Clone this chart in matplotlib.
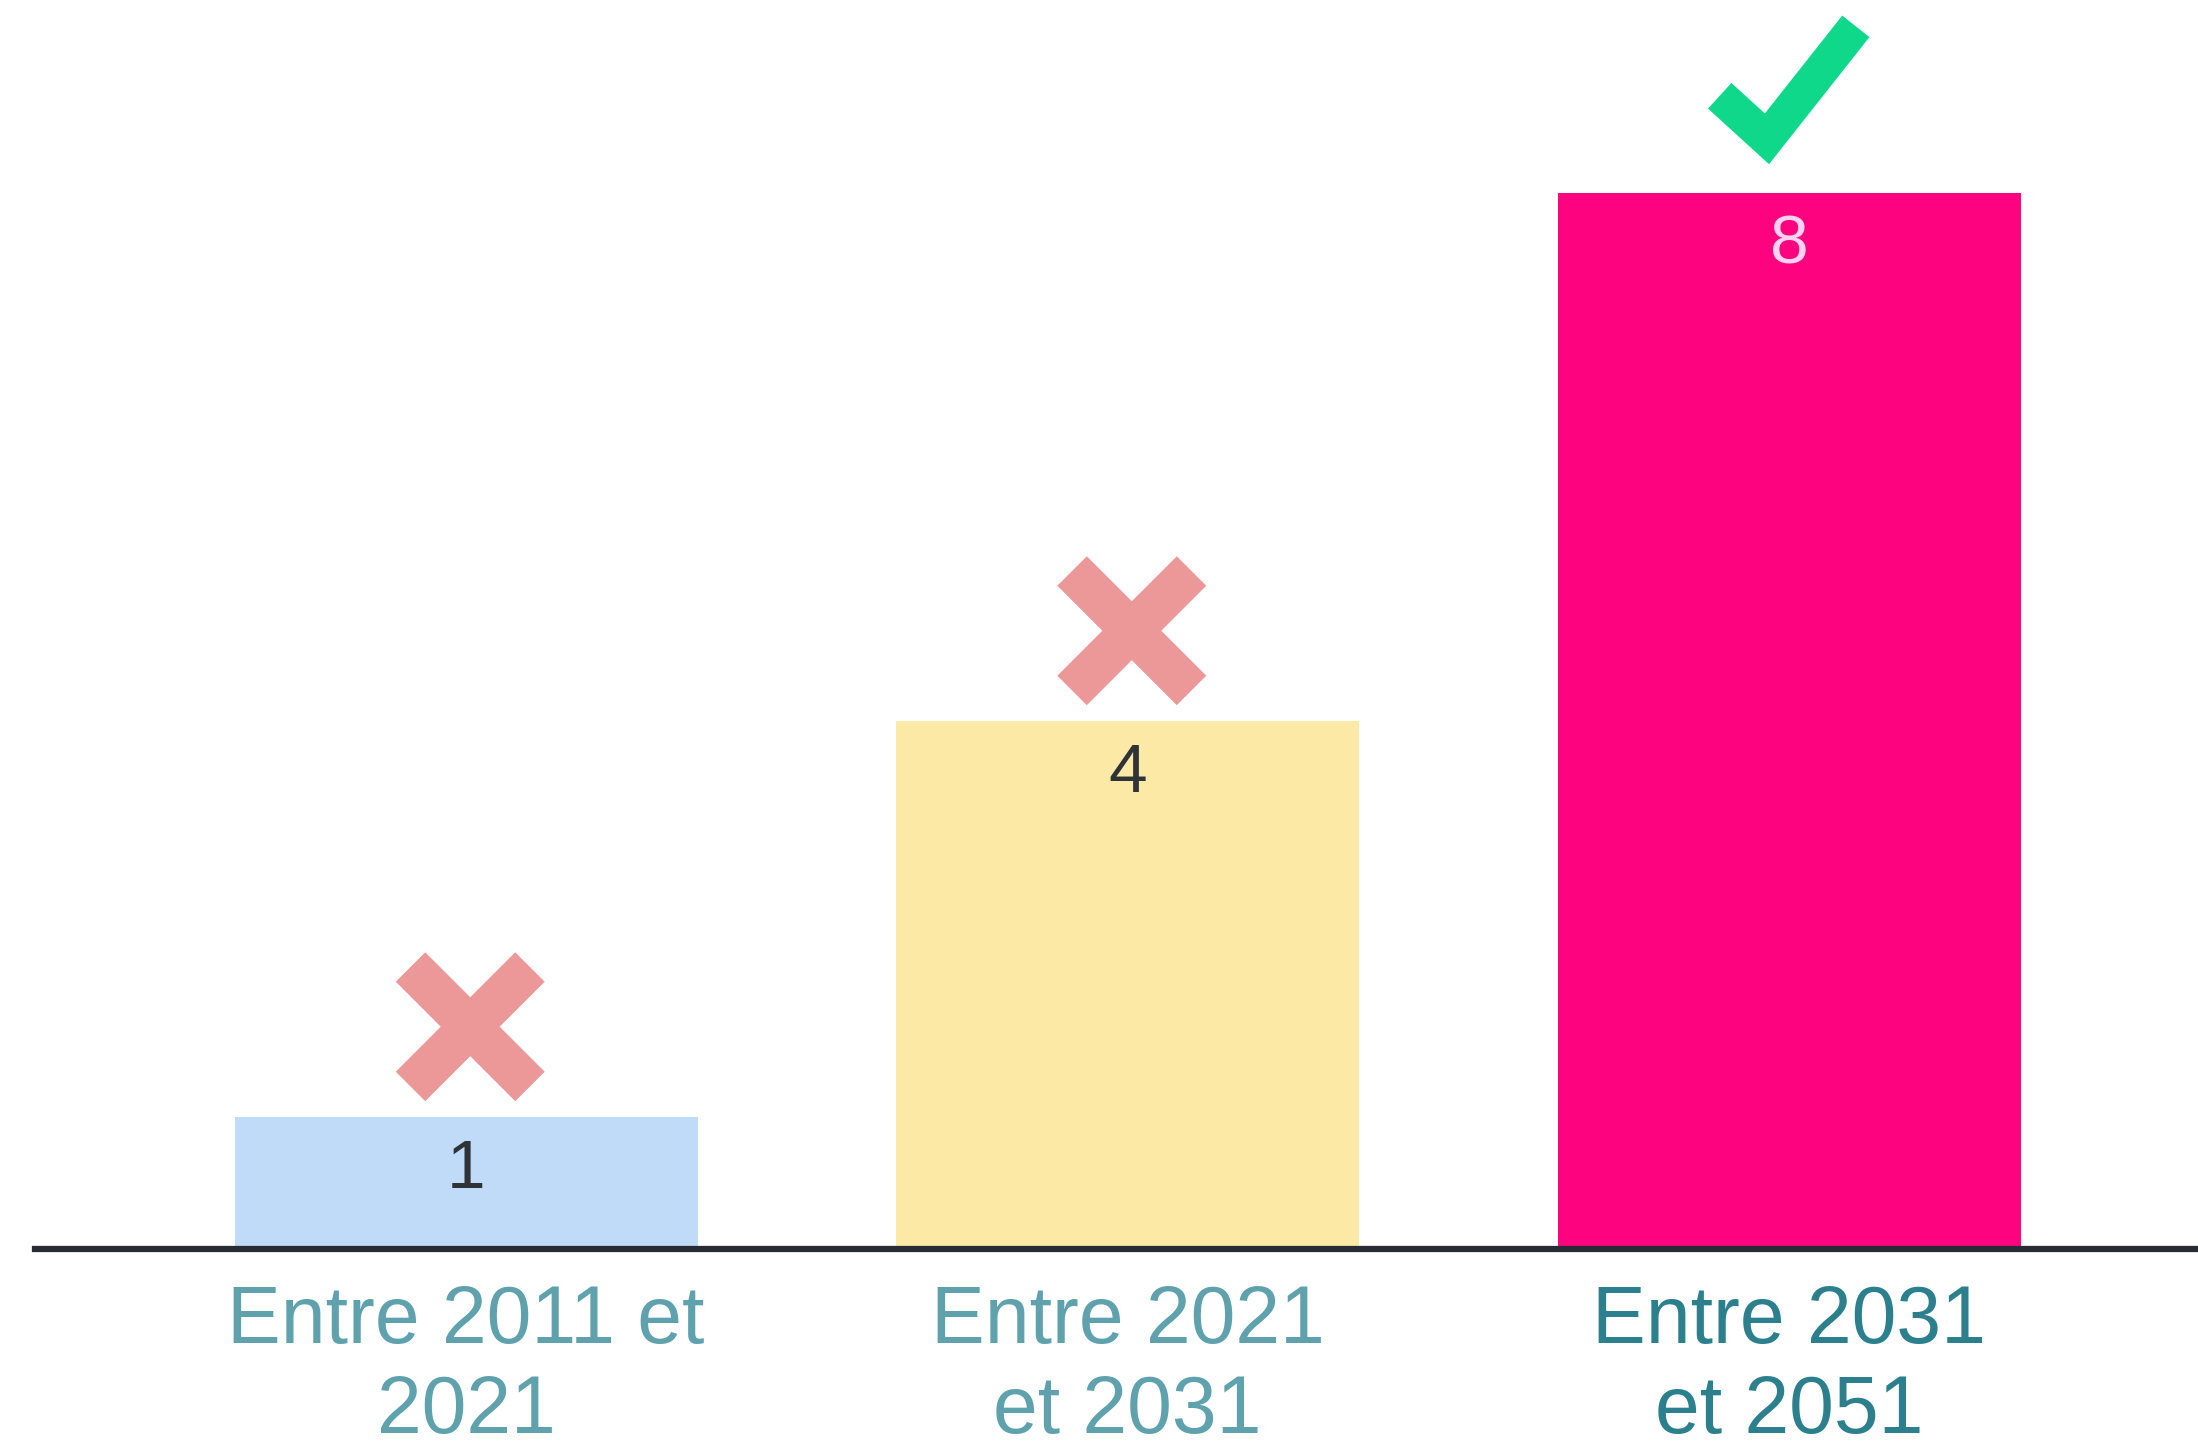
import matplotlib
matplotlib.use('Agg')
import matplotlib.pyplot as plt
import matplotlib.transforms as mtransforms

# ── Data ─────────────────────────────────────────────────────────────────────
categories = ['Entre 2011 et\n2021', 'Entre 2021\net 2031', 'Entre 2031\net 2051']
values = [1, 4, 8]
correct = [False, False, True]

BAR_COLORS = ['#c0dbf8', '#fde9a6', '#fe037f']
VALUE_COLORS = ['#2f3338', '#2f3338', '#ffd2ef']
LABEL_COLORS = ['#5fa2ad', '#5fa2ad', '#2c7f8d']
CROSS_COLOR = '#ec9898'
CHECK_COLOR = '#10d88b'

plt.rcParams['font.family'] = ['Liberation Sans', 'DejaVu Sans']

W, H, DPI = 2198, 1447, 100
fig = plt.figure(figsize=(W / DPI, H / DPI), dpi=DPI, facecolor='white')
ax = fig.add_axes([35 / W, 198 / H, 1 - 35 / W, 1 - 198 / H])

x = list(range(len(values)))
ax.bar(x, values, width=0.70, color=BAR_COLORS, zorder=2)

ax.set_xlim(-0.6516, 2.618)
ax.set_ylim(0, 1249 / 132)

for s in ['top', 'right', 'left']:
    ax.spines[s].set_visible(False)
ax.spines['bottom'].set_linewidth(4.5)
ax.spines['bottom'].set_color('#262b36')
ax.spines['bottom'].set_zorder(3)
ax.set_yticks([])
ax.set_xticks(x)
ax.set_xticklabels(categories, fontsize=58, linespacing=1.25)
ax.tick_params(axis='x', length=0, pad=25)
for lbl, c in zip(ax.get_xticklabels(), LABEL_COLORS):
    lbl.set_color(c)

# value labels inside bars
for xi, v, c in zip(x, values, VALUE_COLORS):
    ax.annotate(str(v), xy=(xi, v), xytext=(0, -38), textcoords='offset points',
                ha='center', va='center', fontsize=50, color=c, zorder=4)

# marks above bars (shapes in points, anchored at bar top)
pt = fig.dpi / 72.0
for xi, v, ok in zip(x, values, correct):
    anchor = mtransforms.ScaledTranslation(xi, v, ax.transData)
    tr = mtransforms.Affine2D().scale(pt) + anchor
    if ok:
        xs = [-50, -16, 48]
        ys = [70, 39, 120]
        ax.plot(xs, ys, transform=tr, color=CHECK_COLOR, lw=25,
                solid_capstyle='butt', solid_joinstyle='miter', clip_on=False)
    else:
        r = 43
        cx, cy = 3, 65
        ax.plot([cx - r, cx + r], [cy - r, cy + r], transform=tr, color=CROSS_COLOR,
                lw=30, solid_capstyle='butt', clip_on=False)
        ax.plot([cx - r, cx + r], [cy + r, cy - r], transform=tr, color=CROSS_COLOR,
                lw=30, solid_capstyle='butt', clip_on=False)

fig.savefig('out.png', dpi=DPI, facecolor='white')
